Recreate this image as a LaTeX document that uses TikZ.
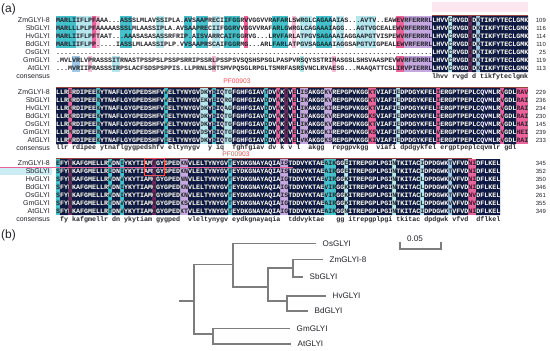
\documentclass[tikz,border=0pt]{standalone}
\usepackage{fontspec}
\setmainfont{Liberation Sans}
\newfontfamily\seqfont{Liberation Mono}
\usetikzlibrary{positioning}
\definecolor{alnavy}{RGB}{14,26,66}
\definecolor{alpink}{RGB}{232,100,155}
\definecolor{allpink}{RGB}{246,190,214}
\definecolor{alteal}{RGB}{70,192,202}
\definecolor{alcyan}{RGB}{182,230,238}
\definecolor{allav}{RGB}{196,168,222}
\definecolor{almag}{RGB}{112,40,96}
\definecolor{alblue}{RGB}{160,200,228}
\definecolor{pfred}{RGB}{226,84,84}
\definecolor{pfline}{RGB}{150,70,60}
\definecolor{pfpale}{RGB}{252,230,240}
\definecolor{treegray}{RGB}{125,125,125}
\definecolor{txtgray}{RGB}{34,34,40}

% ten gap characters
\def\gapten{..........}

% rows: name/sequence/end position (sequences braced, they hold dots)
\def\rowsA{%
ZmGLYI-8/{MARLIIFLPFAAA...ASSSLMLAVSSIPLA.AVSAAPRECIIFGGRVVGGVVRAFARLSWRGLCAGAAAIAS...AVTV..EAWEVRFERRRLLHVVCRVGDIDKTIKFYTECLGMK}/109,%
SbGLYI/{MARLLLPLPFAAAAASSSLMLAASSIPLA.AVSAAPRECIIFGGRVVGGVVRAFARLGWRGLCAGAAAIAGG...AGTVGCEALEWVRFERRRLLHVVCRVGDIDKTIKFYTECLGMK}/116,%
HvGLYI/{MARLIIFLPFTAAT...AAASASASASSRFRIP.AISVARRCAIFGGRVG...LRVFARLATPGVSAGAAAIAGGAAPGTVISPEWVRFERRRLLHVVCRVGDIDKTIKFYTECLGMK}/114,%
BdGLYI/{MARLIIFLPP.....IASSLMLAASSIPLP.VVSAAPRSCAIFGGRMG...ARLFARLATPGVSAGAAAIAGGSAPGTVIGPEALEWVRFERRLLHVVCRVGDIDKTIKFYTECLGMK}/110,%
OsGLYI/{\gapten\gapten\gapten\gapten\gapten\gapten\gapten\gapten\gapten....LHVVCRVGDIDKTIKFYTECLGMK}/25,%
GmGLYI/{.MVLVRLVPRASSSITRNASTPSSPSLPSSPSRRIPSSRLPSSPSVSQSHSPSGLPASPVRSQYSSTRIMASGSLSHSVAASPEVWVRFERRRLLHVVCRVGDIDKTIKFYTECLGMK}/119,%
AtGLYI/{...MVRIIPRASSSIRPSLACFSDSPSPPIS.LLPRNLSRTSMVPQSGLRPGLTSMRFASRSVNCLRVAESG...MAAQATTCSLIRVPIERRLLHVVCRVGDIDKTIKFYTECLGMK}/113}
\def\rowsB{%
ZmGLYI-8/{LLRERDIPEEKYTNAFLGYGPEDSHFVVELTYNYGVDKYDIQTGFGHFGIAVTDVVKTVELISAKGGKVREPGPVKGGKTVIAFIEDPDGYKFELIERGPTPEPLCQVMLRVGDLRAV}/229,%
SbGLYI/{LLRKRDIPEERYTNAFLGYGPEDSHFVVELTYNYGVEKYEIQRGFGHFGIAVDDVAKTVELIKAKGGKVREPGPVKGGKTVIAFIEDPDGYKFELIERGPTPEPLCQVMLRVGDLRAI}/236,%
HvGLYI/{LLRKRDIPEEKYTNAFLGYGPEDSHFVIELTYNYGVDKYDIQAGFGHFGIAVDDVAKTVDLIKAKGGKIREPGPVKGGKTVIAFIEDPDGYKFELIERGPTPEPLCQVMLRVGDLRAI}/234,%
BdGLYI/{LLRKRDIPEEKYTNAFLGYGPEDSHFVIELTYNYGVDKYDIQTGFGHFGIAVDDVAKTVELIKAKGGKVREPGPVKGGKSVIAFIEDPDGYKFELIERGPTPEPLCQVMLRVGDLRAI}/230,%
OsGLYI/{LLRKRDIPEERYTNAFLGYGPEDSHFVVELTYNYGVDKYDIQTGFGHFGIAVDDVAKTVELIKAKGGKVREPGPVKGGKTVIAFIEDPDGYKFELIERGPTPEPLCQVMLRVGDLHAI}/145,%
GmGLYI/{LLRMRDIPEERYTNAFLGYGPEDSHFVIELTYNYGVDSYDIQTGFGHFGIAVDDVYKTVELIKAKGGKIREPGPVKGGKSVIAFIEDPDGYKFELVERGPTPEPLCQVMLRVGDLHEI}/239,%
AtGLYI/{LLRVRDIPEEKYTNAFLGYGPEDSHFVIELTYNYGVDKYDIQTGFGHFGIAVDDVYKTVELVKAKGGKSREPGPVKGGKIVIAFIEDPDGYKFELIERGPTPEPLCQVMLRVGDLRAI}/233}
\def\rowsC{%
ZmGLYI-8/{EFYEKAFGMELLRVDNIYKYTIAMTGYGPEDKNVLELTYNYGVTEYDKGNAYAQIAISTDDVYKTAEAIKGGEITREPGPLPGINTKITACIDPDGWKTVFVDNIDFLKEL}/345,%
SbGLYI/{SFYEKAFGMELLRIDNIYKYTIAMSGYGPEDKNVLELTYNYGVTEYDKGNAYAQIAISTDDVYKTAEAIRGGEITREPGPLPGINTKITACIDPDGWKTVFVDNIDFLKEL}/352,%
HvGLYI/{SFYEKAFGMELLRVDNVYKYTIAMGGYGPEDNNVLELTYNYGVTEYDKGNAYAQIAIGTDDVYKTAEVIRGGKITREPGPLPGINTKITACLDPDGWKKVFVDNIDFLKEL}/350,%
BdGLYI/{SFYEKAFGMELLRVDNIYKYTIAMGGYGPEDKNVLELTYNYGVTEYDKGNAYAQIAIGTDDVYKTAEVIRGGKITREPGPLPGINTKITACLDPDGWKKVFVDNIDFLKEL}/346,%
OsGLYI/{SFYEKAFGMELLRVDNIYKYTIAMGGYGPEDKNVLELTYNYGVTEYDKGNAYAQIAISTDDVYKTAEVIRGGKITREPGPLPGINTKITACLDPDGWKTVFVDNVDFLKEL}/261,%
GmGLYI/{SFYEKAFGMELLRTDNVYKYTIAMGGYGPEDKSVLELTYNYGVTEYDKGNAYAQIAIGTDDVYKTAEAIRGGKITREPGPLPGINTKITACLDPDGWKVVFVDNVDFLKEL}/355,%
AtGLYI/{SFYEKAFGMELLRTDNVYKYTIAMGGYGPEDKTVLELTYNYGVTEYDKGNAYAQIAIGTDDVYKTAEAIKGGNITREPGPLPGINTKITACIDPDGWKTVFVDNIDFLKEL}/349}

% fully conserved columns (first/last)
\def\navyA{95/98,100/103,105/105,107/118}
\def\navyB{1/3,5/10,12/27,29/36,39/39,41/42,45/52,54/55,57/57,59/59,61/61,64/67,70/78,81/85,87/95,97/111,113/115}
\def\navyC{2/3,5/13,15/16,18/24,26/31,34/43,45/56,59/67,71/72,74/84,86/91,93/98,100/103,106/111}

% partly conserved columns (first/last/first row/last row/colour)
\def\tintA{1/5/0/3/alteal,6/9/0/3/alcyan,10/10/0/3/alpink,11/11/0/3/allpink,17/19/0/3/alteal,26/27/0/3/alcyan,33/34/0/3/alteal,36/38/0/3/alteal,40/41/0/3/alcyan,43/46/0/3/alteal,48/48/0/3/alpink,55/58/0/3/alteal,60/60/0/3/allpink,62/64/0/3/alcyan,66/69/0/3/alteal,71/72/0/3/alcyan,76/80/0/3/alcyan,5/6/5/6/alblue,9/9/5/6/allpink,15/16/5/6/alcyan,40/40/5/6/allpink,62/62/5/6/alcyan,70/70/5/6/allpink,86/87/0/3/alpink,88/94/0/3/allav,86/87/5/6/alpink,88/94/5/6/allav,99/99/0/6/alcyan,104/104/0/6/almag,106/106/0/6/alblue}
\def\tintB{4/4/0/6/alpink,11/11/0/6/alteal,28/28/0/6/alteal,37/38/0/6/alcyan,40/40/0/6/alteal,43/44/0/6/alcyan,53/53/0/6/alteal,56/56/0/6/alpink,58/58/0/6/almag,60/60/0/6/alpink,62/63/0/6/allav,68/69/0/6/allav,79/80/0/6/alpink,86/86/0/6/alcyan,96/96/0/6/alpink,112/112/0/6/alpink,116/118/0/6/alpink}
\def\tintC{1/1/0/6/alteal,4/4/0/6/almag,14/14/0/6/alteal,17/17/0/6/alteal,25/25/0/6/almag,32/33/0/6/allav,44/44/0/6/alteal,57/58/0/6/allav,68/70/0/6/alteal,73/73/0/6/alcyan,85/85/0/6/alcyan,92/92/0/6/alcyan,99/99/0/6/alblue,104/105/0/6/alpink}

\begin{document}
\begin{tikzpicture}[x=0.5mm, y=-0.5mm,
  panel/.style={anchor=west, inner sep=0pt, font=\fontsize{17}{18}\selectfont, text=txtgray},
  seqname/.style={anchor=east, inner sep=0pt, font=\fontsize{10}{10}\selectfont,
                  text=txtgray, text height=7.2pt, text depth=0pt},
  seqtext/.style={anchor=west, inner sep=0pt, font=\seqfont\bfseries\fontsize{9.49}{10}\selectfont,
                  text=txtgray, text height=6.2pt, text depth=0pt},
  seqnum/.style={anchor=east, inner sep=0pt, font=\fontsize{8.5}{9}\selectfont,
                 text=txtgray, text height=6.1pt, text depth=0pt},
  pflbl/.style={inner sep=0pt, font=\fontsize{9.5}{10}\selectfont, text=pfred},
  pfbar/.style={draw=pfline, line width=0.35mm},
  leaf/.style={anchor=west, inner sep=0pt, font=\fontsize{11.5}{12}\selectfont,
               text=txtgray, text height=8.2pt, text depth=0pt},
  branch/.style={draw=treegray, line width=0.55mm}
]
\useasboundingbox (0,0) rectangle (550,350);

% (a) alignment
\node[panel] (pa) at (1,9) {(a)};

% colour bands
\foreach \ca/\cb/\ra/\rb/\cl in \tintA
  \fill[\cl] ({56+4*(\ca-1)},{16+8*\ra}) rectangle ({56+4*\cb},{24+8*\rb});
\foreach \ca/\cb/\ra/\rb/\cl in \tintB
  \fill[\cl] ({56+4*(\ca-1)},{88+8*\ra}) rectangle ({56+4*\cb},{96+8*\rb});
\foreach \ca/\cb/\ra/\rb/\cl in \tintC
  \fill[\cl] ({56+4*(\ca-1)},{159+8*\ra}) rectangle ({56+4*\cb},{167+8*\rb});
\fill[alnavy] \foreach \ca/\cb in \navyA {({56+4*(\ca-1)},16) rectangle ({56+4*\cb},72)}
              \foreach \ca/\cb in \navyB {({56+4*(\ca-1)},88) rectangle ({56+4*\cb},144)}
              \foreach \ca/\cb in \navyC {({56+4*(\ca-1)},159) rectangle ({56+4*\cb},215)};

% PF00903 domain marks
\fill[pfpale] (432,2) rectangle (528,12);
\draw[pfbar] (432,15) -- (528,15);
\draw[pfbar] (56,87) -- (528,87);
\node[pflbl] (pfB) at (237,81.5) {PF00903};
\draw[pfbar] (56,158) -- (472,158);
\node[pflbl] (pfC) at (236,154.3) {PF00903};
\fill[alcyan!70] (0,167.5) rectangle (52,175);
\draw[alpink, line width=0.3mm] (0,167) -- (293,167);

% names, residues, positions
\foreach \nm/\sq/\nb [count=\i from 0] in \rowsA {
  \node[seqname] (nA\i) at (50,{20+8*\i}) {\nm};
  \node[seqtext] (sA\i) at (56,{20+8*\i}) {\sq};
  \node[seqnum] (kA\i) at (546,{20+8*\i}) {\nb};
}
\node[seqname] (nAc) at (50,76) {consensus};
\node[seqtext] (sAc) at (432,76) {lhvv~rvgd~d~tikfyteclgmk};

\foreach \nm/\sq/\nb [count=\i from 0] in \rowsB {
  \node[seqname] (nB\i) at (50,{92+8*\i}) {\nm};
  \node[seqtext] (sB\i) at (56,{92+8*\i}) {\sq};
  \node[seqnum] (kB\i) at (546,{92+8*\i}) {\nb};
}
\node[seqname] (nBc) at (50,147.5) {consensus};
\node[seqtext] (sBc) at (56,147.5) {llr~rdipee~ytnaflgygpedshfv~eltynygv~~y~iq~~fghfgiav~dv~k~v~l~~akgg~~repgpvkgg~~viafi~dpdgykfel~ergptpeplcqvmlr~gdl};

\foreach \nm/\sq/\nb [count=\i from 0] in \rowsC {
  \node[seqname] (nC\i) at (50,{163+8*\i}) {\nm};
  \node[seqtext] (sC\i) at (56,{163+8*\i}) {\sq};
  \node[seqnum] (kC\i) at (546,{163+8*\i}) {\nb};
}
\node[seqname] (nCc) at (50,219) {consensus};
\node[seqtext] (sCc) at (60,219) {fy~kafgmellr~dn~ykytiam~gygped~~vleltynygv~eydkgnayaqia~~tddvyktae~~~gg~itrepgplpgi~tkitac~dpdgwk~vfvd~~dflkel};

% white residues on the conserved columns
\begin{scope}
\clip \foreach \ca/\cb in \navyA {({56+4*(\ca-1)},16) rectangle ({56+4*\cb},72)}
      \foreach \ca/\cb in \navyB {({56+4*(\ca-1)},88) rectangle ({56+4*\cb},144)}
      \foreach \ca/\cb in \navyC {({56+4*(\ca-1)},159) rectangle ({56+4*\cb},215)};
\foreach \nm/\sq/\nb [count=\i from 0] in \rowsA
  \node[seqtext, text=white] (wA\i) at (56,{20+8*\i}) {\sq};
\foreach \nm/\sq/\nb [count=\i from 0] in \rowsB
  \node[seqtext, text=white] (wB\i) at (56,{92+8*\i}) {\sq};
\foreach \nm/\sq/\nb [count=\i from 0] in \rowsC
  \node[seqtext, text=white] (wC\i) at (56,{163+8*\i}) {\sq};
\end{scope}
\draw[pfred, line width=0.35mm] (144,158.5) rectangle (164,175);

% (b) tree
\node[panel] (pb) at (1,235) {(b)};
\coordinate (stub) at (179,301);
\coordinate (root) at (194,301);
\coordinate (grass) at (233,264.5);
\coordinate (core) at (268,287);
\coordinate (zmsb) at (293,268);
\coordinate (hvbd) at (287,301);
\coordinate (dicot) at (213,334);
\coordinate (tOs) at (316,243.5);
\coordinate (tZm) at (323,259.5);
\coordinate (tSb) at (303,277);
\coordinate (tHv) at (326,296);
\coordinate (tBd) at (308,311);
\coordinate (tGm) at (290,328.5);
\coordinate (tAt) at (291,344);
\node[leaf, right=3.3mm of tOs] (lOs) {OsGLYI};
\node[leaf, right=3.3mm of tZm] (lZm) {ZmGLYI-8};
\node[leaf, right=3.3mm of tSb] (lSb) {SbGLYI};
\node[leaf, right=3.3mm of tHv] (lHv) {HvGLYI};
\node[leaf, right=3.3mm of tBd] (lBd) {BdGLYI};
\node[leaf, right=3.3mm of tGm] (lGm) {GmGLYI};
\node[leaf, right=3.3mm of tAt] (lAt) {AtGLYI};

\draw[branch] (stub) -- (root);
\draw[branch] (root) |- (grass);
\draw[branch] (root) |- (dicot);
\draw[branch] (grass) |- (tOs);
\draw[branch] (grass) |- (core);
\draw[branch] (core) |- (zmsb);
\draw[branch] (core) |- (hvbd);
\draw[branch] (zmsb) |- (tZm);
\draw[branch] (zmsb) |- (tSb);
\draw[branch] (hvbd) |- (tHv);
\draw[branch] (hvbd) |- (tBd);
\draw[branch] (dicot) |- (tGm);
\draw[branch] (dicot) |- (tAt);

% scale bar
\coordinate (sbA) at (400,242);
\coordinate (sbB) at (441,242);
\draw[branch] (sbA) -- ++(0,7) -| (sbB);
\node[leaf, anchor=center] (sbl) at (415,239) {0.05};
\end{tikzpicture}
\end{document}
